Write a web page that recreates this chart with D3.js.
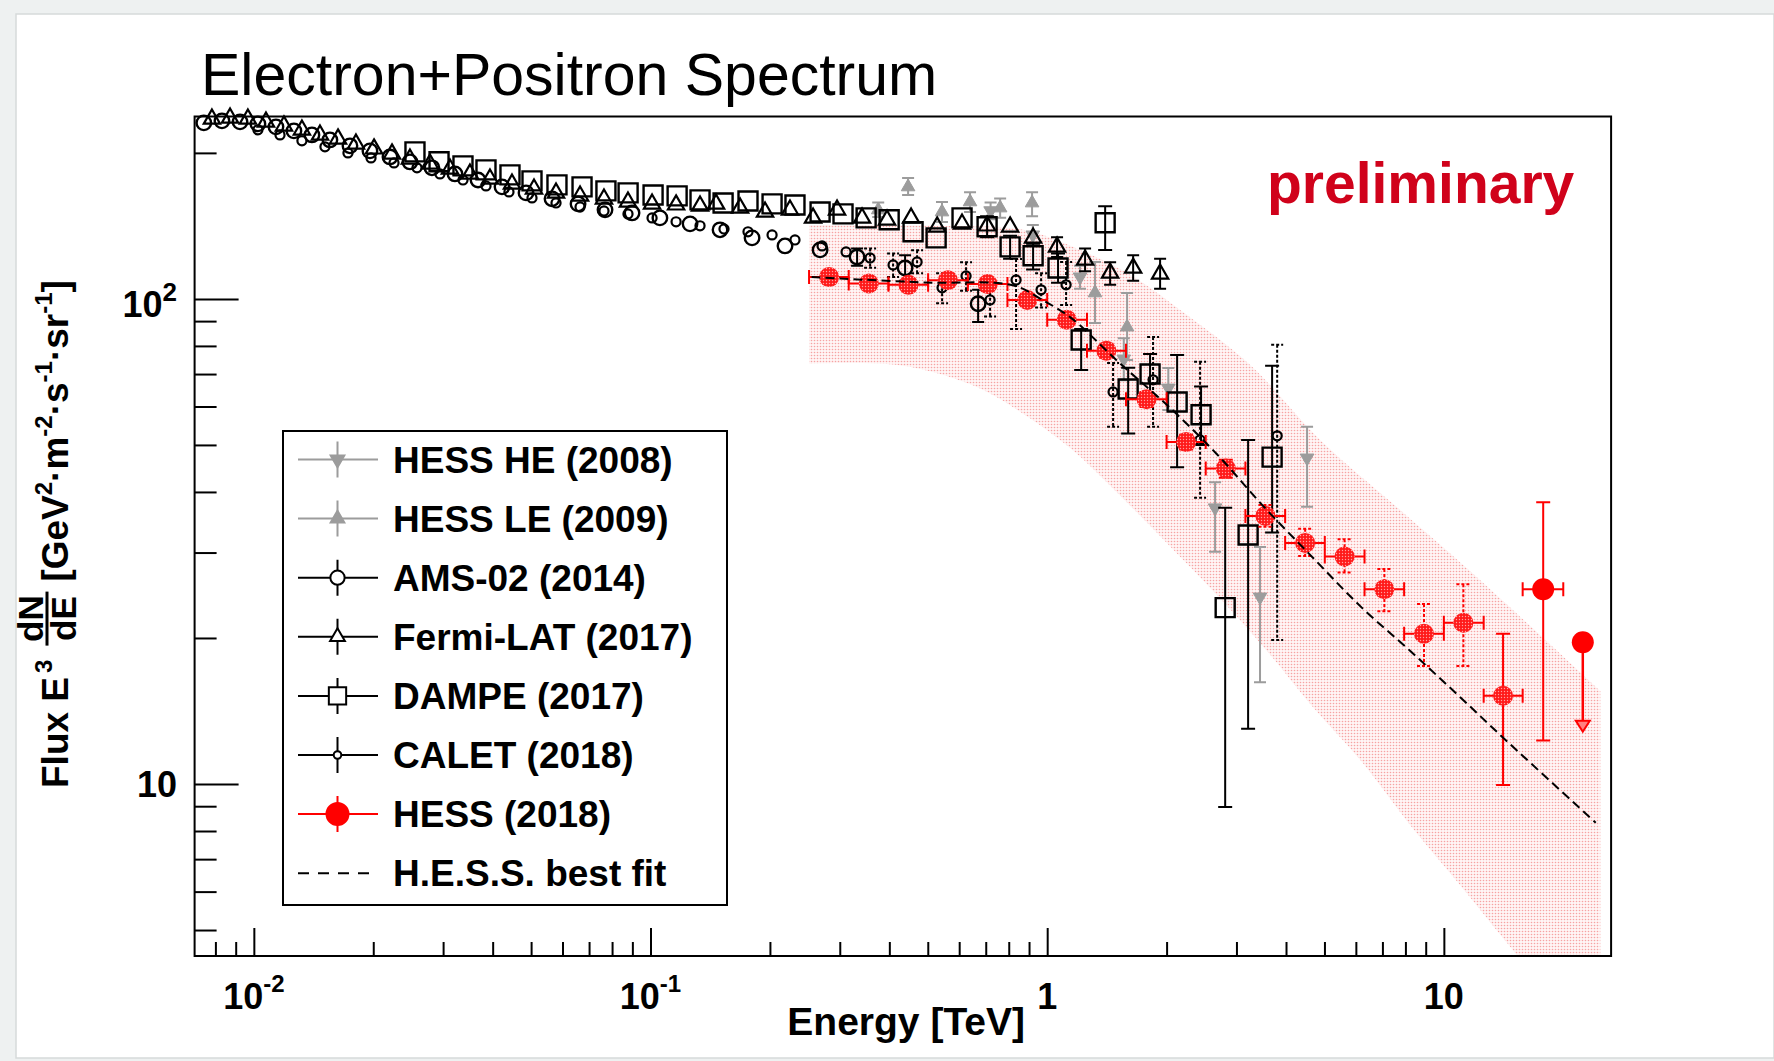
<!DOCTYPE html>
<html lang="en">
<head>
<meta charset="utf-8">
<title>Electron+Positron Spectrum</title>
<script src="https://d3js.org/d3.v7.min.js"></script>
<style>
  html, body { margin: 0; padding: 0; background: #eef1f1; }
  svg { display: block; }
  text { font-family: "Liberation Sans", Arial, Helvetica, sans-serif; fill: #000; }
  .bold { font-weight: bold; }
</style>
</head>
<body>
<script>
// energy in TeV, flux E^3 dN/dE in GeV^2 m^-2 s^-1 sr^-1

// H.E.S.S. 2018
const hessE     = [0.282, 0.355, 0.447, 0.562, 0.708, 0.891, 1.12, 1.41, 1.78, 2.24, 2.82, 3.55, 4.47, 5.62, 7.08, 8.91, 11.2, 14.1, 17.8];
const hessF     = [110.9, 107.6, 106.9, 109.3, 107.3, 99.5, 90.6, 78.2, 62.1, 50.7, 44.7, 35.7, 31.4, 29.45, 25.2, 20.4, 21.5, 15.2, 25.2];
const hessLo    = [108.8, 105.6, 104.9, 107.0, 105.0, 96.7, 88.0, 75.6, 59.9, 48.9, 42.8, 33.9, 29.5, 27.3, 22.7, 17.5, 17.5, 9.95, 12.3];
const hessHi    = [113.0, 109.6, 108.9, 111.6, 109.6, 102.4, 93.2, 80.8, 64.3, 52.5, 46.6, 37.6, 33.6, 31.96, 27.75, 23.5, 25.8, 20.4, 38.1];
const hessBinLo = [0.251, 0.316, 0.398, 0.501, 0.631, 0.794, 1.00, 1.26, 1.58, 2.00, 2.51, 3.16, 3.98, 5.01, 6.31, 7.94, 10.0, 12.6, 15.8];
const hessBinHi = [0.316, 0.398, 0.501, 0.631, 0.794, 1.00, 1.26, 1.58, 2.00, 2.51, 3.16, 3.98, 5.01, 6.31, 7.94, 10.0, 12.6, 15.8, 20.0];
// upper limit: energy, flux, arrow end
const hessUL    = [22.4, 19.6, 13.0];

// H.E.S.S. best fit
const fitE = [0.2547, 0.4934, 0.819, 0.970, 1.148, 1.521, 2.015, 2.671, 3.537, 4.69, 6.21, 8.23, 10.9, 14.44, 24.15];
const fitF = [110.9, 108.1, 106.7, 99.6, 91.4, 73.8, 60.2, 47.96, 37.1, 29.2, 23.1, 18.8, 15.2, 12.24, 8.32];

// systematic band
const bandUpE  = [0.251, 0.569, 0.869, 1.21, 1.618, 2.163, 3.248, 4.876, 7.76, 12.35, 24.8];
const bandUpF  = [142.1, 141.4, 138.8, 126.2, 112.1, 94.9, 73.1, 51.2, 36.7, 26.3, 15.55];
const bandLowE = [0.251, 0.428, 0.654, 0.864, 1.149, 1.518, 2.017, 2.667, 3.543, 4.68, 6.22, 8.22, 10.93, 14.44, 24.8];
const bandLowF = [73.5, 72.9, 66.2, 58.2, 49.1, 39.5, 31.2, 24.6, 19.0, 14.4, 11.1, 8.23, 6.22, 4.70, 2.76];

// HESS HE (2008)
const heE  = [0.72, 0.92, 1.21, 1.56, 2.02, 2.65, 3.44, 4.52];
const heF  = [152.0, 135.5, 111.0, 75.2, 65.5, 37.1, 24.3, 47.0];
const heLo = [146, 129, 105, 68, 59, 30.1, 16.2, 37.3];
const heHi = [158, 142, 117, 83, 72, 41.9, 30.8, 54.5];

// HESS LE (2009)
const leE  = [0.375, 0.446, 0.543, 0.639, 0.761, 0.916, 1.32, 1.59];
const leF  = [152.6, 170.2, 151.1, 158.5, 154.0, 157.7, 102.9, 87.5];
const leLo = [147.5, 163.8, 144.0, 151.0, 147.0, 148.0, 89.2, 74.8];
const leHi = [158.0, 177.6, 158.5, 166.0, 161.0, 166.0, 119.2, 102.9];

// AMS-02 (2014)
const amsE = [0.00748, 0.00831, 0.00923, 0.01024, 0.01137, 0.01262, 0.01401, 0.01555, 0.01747, 0.01962,
              0.02204, 0.02475, 0.02812, 0.03214, 0.03674, 0.04223, 0.04855, 0.05645, 0.06566, 0.07679,
              0.08982, 0.1056, 0.1258, 0.1497, 0.1803, 0.2183, 0.2676, 0.3317, 0.4383, 0.6697];
const amsF = [230.6, 232.8, 231.7, 229.5, 226.3, 222.0, 217.8, 212.7, 206.8, 201.9,
              196.2, 191.6, 186.3, 181.0, 175.9, 170.2, 165.4, 160.8, 157.0, 152.6,
              150.4, 146.9, 142.8, 138.8, 133.6, 128.6, 126.2, 122.0, 115.8, 97.7];
// [index, low, high]
const amsErr = [[27, 117, 127], [28, 109, 123], [29, 89.6, 104.4]];

// Fermi-LAT (2017)
const fermiE = [0.00784, 0.00871, 0.00966, 0.01073, 0.01191, 0.01322, 0.01468, 0.01630, 0.01809, 0.02009,
                0.02230, 0.02475, 0.02780, 0.03122, 0.03506, 0.03938, 0.04475, 0.05085, 0.05778, 0.06643,
                0.07633, 0.08774, 0.1009, 0.1160, 0.1333, 0.1463, 0.1682, 0.1944, 0.2247, 0.2569,
                0.2953, 0.3414, 0.3947, 0.4538, 0.5279, 0.6100, 0.7055, 0.8063, 0.9215, 1.059,
                1.246, 1.441, 1.647, 1.926];
const fermiF = [235.0, 236.1, 235.0, 231.7, 227.4, 223.1, 217.8, 213.8, 208.7, 203.9,
                199.1, 194.4, 189.8, 185.4, 181.0, 176.8, 172.6, 168.6, 165.4, 163.1,
                160.8, 158.5, 157.0, 156.3, 155.5, 157.0, 154.0, 151.1, 152.6, 146.9,
                152.6, 146.9, 145.5, 146.9, 140.8, 142.8, 141.5, 140.8, 133.6, 128.0,
                120.3, 113.1, 115.8, 112.6];
const fermiErr = [[39, 122, 134], [40, 114, 127], [41, 107, 119], [42, 109, 123], [43, 105, 121]];

// DAMPE (2017)
const dampeE = [0.02548, 0.0293, 0.03367, 0.03848, 0.04423, 0.05026, 0.0581, 0.0672, 0.0772, 0.0878,
                0.1015, 0.1167, 0.1333, 0.1524, 0.1761, 0.2025, 0.2313, 0.2676, 0.3057, 0.3496,
                0.3996, 0.4591, 0.5248, 0.61, 0.7055, 0.8063, 0.9215, 1.065, 1.218, 1.4,
                1.6, 1.817, 2.126, 2.443, 2.81, 3.21, 3.69];
const dampeF = [201.0, 191.7, 188.0, 184.5, 180.2, 175.1, 171.8, 170.2, 167.0, 165.4,
                163.8, 163.1, 160.0, 157.7, 159.2, 157.0, 156.2, 151.1, 149.7, 146.9,
                145.6, 137.5, 133.6, 146.9, 140.8, 128.0, 122.7, 115.8, 82.3, 143.5,
                65.2, 70.0, 61.3, 57.7, 23.1, 32.6, 47.2];
const dampeErr = [[24, 134, 148], [25, 121, 135], [26, 115, 130], [27, 108, 124], [28, 71.4, 86.7],
                  [29, 126.2, 155.3], [30, 52.8, 72.1], [31, 63, 77], [32, 45.0, 76.6], [33, 50, 66],
                  [34, 8.97, 37.1], [35, 13.0, 51.2], [36, 33, 72.8]];

// CALET (2018)
const caletE = [0.01024, 0.01164, 0.01322, 0.01511, 0.01727, 0.01974, 0.02256, 0.02578, 0.02946, 0.03367,
                0.03848, 0.04397, 0.05026, 0.05778, 0.06643, 0.07633, 0.08774, 0.1009, 0.1160, 0.1333,
                0.1532, 0.1761, 0.2025, 0.2313, 0.2707, 0.3112, 0.3577, 0.4088, 0.4699, 0.5433,
                0.6244, 0.7178, 0.8347, 0.9652, 1.116, 1.466, 1.849, 2.429, 3.80];
const caletF = [223.1, 217.8, 211.8, 205.8, 200.0, 195.3, 190.7, 186.3, 181.0, 175.9,
                171.0, 166.2, 161.5, 157.7, 154.7, 151.8, 149.7, 146.9, 144.2, 141.5,
                139.4, 137.5, 135.5, 132.3, 128.6, 125.0, 121.5, 117.5, 119.2, 105.4,
                111.5, 99.5, 109.4, 104.4, 106.9, 64.3, 68.1, 51.2, 52.2];
const caletErr = [[26, 116, 127], [27, 111, 124], [28, 113, 126], [29, 98, 113], [30, 104, 119],
                  [31, 92, 108], [32, 86.7, 120.9], [33, 96, 113], [34, 97.2, 119.2], [35, 54.5, 73.8],
                  [36, 54.5, 83.5], [37, 38.9, 74.2], [38, 19.8, 80.4]];

// axes
const xMajor = [0.01, 0.1, 1, 10];
const xMinor = [0.008, 0.009, 0.02, 0.03, 0.04, 0.05, 0.06, 0.07, 0.08, 0.09,
                0.2, 0.3, 0.4, 0.5, 0.6, 0.7, 0.8, 0.9, 2, 3, 4, 5, 6, 7, 8, 9, 20];
const xLabels = [["10", "-2"], ["10", "-1"], ["1", ""], ["10", ""]];
const yMajor = [10, 100];
const yMinor = [5, 6, 7, 8, 9, 20, 30, 40, 50, 60, 70, 80, 90, 200];
const yLabels = [["10", ""], ["10", "2"]];

const legendLabels = ["HESS HE (2008)", "HESS LE (2009)", "AMS-02 (2014)", "Fermi-LAT (2017)",
                      "DAMPE (2017)", "CALET (2018)", "HESS (2018)", "H.E.S.S. best fit"];

// ---------------- drawing ----------------
const W = 1774, H = 1061;
const plot = {left: 194.6, right: 1611.1, top: 116.5, bottom: 956};
const grey = "#9c9c9c", red = "#ff0000";

const x = d3.scaleLog().domain([0.00709, 26.4]).range([plot.left, plot.right]);
const y = d3.scaleLog().domain([4.42, 237.7]).range([plot.bottom, plot.top]);

const svg = d3.select("body").append("svg")
    .attr("width", W)
    .attr("height", H);

const defs = svg.append("defs");
defs.append("clipPath").attr("id", "plotClip")
    .append("rect")
    .attr("x", plot.left).attr("y", plot.top)
    .attr("width", plot.right - plot.left).attr("height", plot.bottom - plot.top);

let bandPat = defs.append("pattern").attr("id", "bandDots")
    .attr("patternUnits", "userSpaceOnUse").attr("width", 3).attr("height", 3);
bandPat.append("rect").attr("width", 3).attr("height", 3).attr("fill", "#fff5f5");
bandPat.append("circle").attr("cx", 1.5).attr("cy", 1.5).attr("r", 0.8).attr("fill", "#f6a3a3");

let redPat = defs.append("pattern").attr("id", "redDots")
    .attr("patternUnits", "userSpaceOnUse").attr("width", 3).attr("height", 3);
redPat.append("rect").attr("width", 3).attr("height", 3).attr("fill", "#ff1a1a");
redPat.append("circle").attr("cx", 1.5).attr("cy", 1.5).attr("r", 0.7).attr("fill", "#ffa0a0");

// page + card
svg.append("rect").attr("width", W).attr("height", H).attr("fill", "#eef1f1");
svg.append("rect")
    .attr("x", 16).attr("y", 14)
    .attr("width", W - 16).attr("height", 1058 - 14)
    .attr("fill", "#fff")
    .attr("stroke", "#d6dada").attr("stroke-width", 1.5);

// title
svg.append("text")
    .attr("x", 201).attr("y", 95)
    .attr("font-size", 59)
    .text("Electron+Positron Spectrum");

// ---- axes (inward ticks)
function tickAxis(axis, transform) {
    svg.append("g")
        .attr("transform", transform)
        .call(axis)
        .call(g => g.select(".domain").remove())
        .call(g => g.selectAll("line").attr("stroke", "#000").attr("stroke-width", 2));
}
tickAxis(d3.axisBottom(x).tickValues(xMajor).tickSize(-28).tickSizeOuter(0).tickFormat(""),
         `translate(0,${plot.bottom})`);
tickAxis(d3.axisBottom(x).tickValues(xMinor).tickSize(-14).tickSizeOuter(0).tickFormat(""),
         `translate(0,${plot.bottom})`);
tickAxis(d3.axisLeft(y).tickValues(yMajor).tickSize(-44).tickSizeOuter(0).tickFormat(""),
         `translate(${plot.left},0)`);
tickAxis(d3.axisLeft(y).tickValues(yMinor).tickSize(-22).tickSizeOuter(0).tickFormat(""),
         `translate(${plot.left},0)`);

// tick labels
xMajor.forEach((v, i) => {
    let t = svg.append("text").attr("class", "bold")
        .attr("x", x(v)).attr("y", 1009)
        .attr("font-size", 36).attr("text-anchor", "middle");
    t.append("tspan").text(xLabels[i][0]);
    if (xLabels[i][1]) t.append("tspan").attr("font-size", 24).attr("dy", -17).text(xLabels[i][1]);
});
yMajor.forEach((v, i) => {
    let t = svg.append("text").attr("class", "bold")
        .attr("x", 177).attr("y", y(v) + (yLabels[i][1] ? 18 : 13))
        .attr("font-size", 36).attr("text-anchor", "end");
    t.append("tspan").text(yLabels[i][0]);
    if (yLabels[i][1]) t.append("tspan").attr("font-size", 26).attr("dy", -16).text(yLabels[i][1]);
});

// axis titles
svg.append("text").attr("class", "bold")
    .attr("x", 1025).attr("y", 1035)
    .attr("font-size", 39).attr("text-anchor", "end")
    .text("Energy [TeV]");

const yt = svg.append("g").attr("transform", "translate(68,788) rotate(-90)");
let t1 = yt.append("text").attr("class", "bold").attr("font-size", 37);
t1.append("tspan").text("Flux E");
t1.append("tspan").attr("font-size", 24).attr("dy", -16).attr("dx", 4).text("3");
let u = t1.node().getComputedTextLength() + 18;
yt.append("text").attr("class", "bold").attr("font-size", 35)
    .attr("x", u + 27).attr("y", -25).attr("text-anchor", "middle").text("dN");
yt.append("line").attr("x1", u).attr("x2", u + 54).attr("y1", -21).attr("y2", -21)
    .attr("stroke", "#000").attr("stroke-width", 3);
yt.append("text").attr("class", "bold").attr("font-size", 35)
    .attr("x", u + 27).attr("y", 8).attr("text-anchor", "middle").text("dE");
let t2 = yt.append("text").attr("class", "bold").attr("font-size", 37).attr("x", u + 64);
[["[GeV", 0], ["2", 1], ["\u00b7m", 0], ["-2", 1], ["\u00b7s", 0], ["-1", 1], ["\u00b7sr", 0], ["-1", 1], ["]", 0]]
    .forEach((p, i, arr) => {
        let prevSup = i > 0 && arr[i - 1][1];
        let ts = t2.append("tspan").text(p[0]);
        if (p[1]) ts.attr("font-size", 24).attr("dy", -16);
        else if (prevSup) ts.attr("dy", 16);
    });

// ---- plot contents (clipped band & fit)
const inner = svg.append("g");

const line = d3.line().x(d => x(d[0])).y(d => y(d[1])).curve(d3.curveCatmullRom);
let up = bandUpE.map((e, i) => [e, bandUpF[i]]);
let low = bandLowE.map((e, i) => [e, bandLowF[i]]).reverse();
inner.append("path")
    .attr("clip-path", "url(#plotClip)")
    .attr("d", line(up) + "L" + line(low).slice(1) + "Z")
    .attr("fill", "url(#bandDots)");

function errPaths(g, pts, color, dash, cap) {
    g.selectAll(null).data(pts).join("path")
        .attr("d", d => {
            let px = x(d.e), y1 = y(d.hi), y2 = y(d.lo);
            return `M${px},${y1}V${y2}M${px - cap},${y1}h${2 * cap}M${px - cap},${y2}h${2 * cap}`;
        })
        .attr("fill", "none")
        .attr("stroke", color)
        .attr("stroke-width", 2)
        .attr("stroke-dasharray", dash);
}

function markers(g, E, F, type, size, stroke, fill, sw, flip) {
    g.selectAll(null).data(E).join("path")
        .attr("transform", (e, i) => `translate(${x(e)},${y(F[i])})` + (flip ? " rotate(180)" : ""))
        .attr("d", d3.symbol().type(type).size(size))
        .attr("fill", fill)
        .attr("stroke", stroke)
        .attr("stroke-width", sw);
}

function fromIndex(E, list) {
    return list.map(d => ({e: E[d[0]], lo: d[1], hi: d[2]}));
}

// HESS HE
let gHe = inner.append("g");
errPaths(gHe, heE.map((e, i) => ({e: e, lo: heLo[i], hi: heHi[i]})), grey, null, 6);
markers(gHe, heE, heF, d3.symbolTriangle, 80, grey, grey, 1, true);

// HESS LE
let gLe = inner.append("g");
errPaths(gLe, leE.map((e, i) => ({e: e, lo: leLo[i], hi: leHi[i]})), grey, null, 6);
markers(gLe, leE, leF, d3.symbolTriangle, 80, grey, grey, 1, false);

// AMS-02
let gAms = inner.append("g");
errPaths(gAms, fromIndex(amsE, amsErr), "#000", null, 6);
markers(gAms, amsE, amsF, d3.symbolCircle, 165, "#000", "none", 2.4, false);

// Fermi-LAT
let gFermi = inner.append("g");
errPaths(gFermi, fromIndex(fermiE, fermiErr), "#000", null, 6);
markers(gFermi, fermiE, fermiF, d3.symbolTriangle, 115, "#000", "none", 2.2, false);

// DAMPE
let gDampe = inner.append("g");
errPaths(gDampe, fromIndex(dampeE, dampeErr), "#000", null, 7);
markers(gDampe, dampeE, dampeF, d3.symbolSquare, 361, "#000", "none", 2.4, false);

// CALET
let gCalet = inner.append("g");
errPaths(gCalet, fromIndex(caletE, caletErr), "#000", "3,2", 6);
markers(gCalet, caletE, caletF, d3.symbolCircle, 65, "#000", "none", 2.2, false);

// HESS 2018
let gHess = inner.append("g");
gHess.selectAll(null).data(hessE).join("path")
    .attr("d", (e, i) => {
        let py = y(hessF[i]), a = x(hessBinLo[i]), b = x(hessBinHi[i]);
        return `M${a},${py}H${b}M${a},${py - 7}v14M${b},${py - 7}v14`;
    })
    .attr("stroke", red).attr("stroke-width", 2).attr("fill", "none");
hessE.forEach((e, i) => {
    errPaths(gHess, [{e: e, lo: hessLo[i], hi: hessHi[i]}], red, (i >= 11 && i <= 16) ? "3,2" : null, 7);
});
gHess.selectAll(null).data(hessE).join("circle")
    .attr("cx", e => x(e))
    .attr("cy", (e, i) => y(hessF[i]))
    .attr("r", (e, i) => i === hessE.length - 1 ? 11 : 10)
    .attr("fill", (e, i) => i === hessE.length - 1 ? red : "url(#redDots)");

// upper limit
let ulx = x(hessUL[0]), uly = y(hessUL[1]), ulEnd = y(hessUL[2]);
gHess.append("path")
    .attr("d", `M${ulx},${uly}V${ulEnd}`)
    .attr("stroke", red).attr("stroke-width", 2.5);
gHess.append("path")
    .attr("d", `M${ulx - 7},${ulEnd - 8}L${ulx + 7},${ulEnd - 8}L${ulx},${ulEnd + 3}Z`)
    .attr("fill", "#ff8080").attr("stroke", red).attr("stroke-width", 2);
gHess.append("circle").attr("cx", ulx).attr("cy", uly).attr("r", 11).attr("fill", red);

// best fit
inner.append("path")
    .attr("clip-path", "url(#plotClip)")
    .attr("d", line(fitE.map((e, i) => [e, fitF[i]])))
    .attr("fill", "none")
    .attr("stroke", "#000")
    .attr("stroke-width", 2)
    .attr("stroke-dasharray", "9,5");

// frame
svg.append("rect")
    .attr("x", plot.left).attr("y", plot.top)
    .attr("width", plot.right - plot.left).attr("height", plot.bottom - plot.top)
    .attr("fill", "none").attr("stroke", "#000").attr("stroke-width", 2);

// legend
const leg = svg.append("g");
leg.append("rect")
    .attr("x", 283).attr("y", 431).attr("width", 444).attr("height", 474)
    .attr("fill", "#fff").attr("stroke", "#000").attr("stroke-width", 2);

const legStyles = [
    {c: grey, sym: d3.symbolTriangle, size: 80, fill: grey, flip: true},
    {c: grey, sym: d3.symbolTriangle, size: 80, fill: grey},
    {c: "#000", sym: d3.symbolCircle, size: 160, fill: "none"},
    {c: "#000", sym: d3.symbolTriangle, size: 95, fill: "none"},
    {c: "#000", sym: d3.symbolSquare, size: 300, fill: "none"},
    {c: "#000", sym: d3.symbolCircle, size: 45, fill: "none"},
    {c: red, sym: d3.symbolCircle, size: 380, fill: red},
    {c: "#000", dashed: true}
];

legendLabels.forEach((lab, i) => {
    let ly = 459.5 + i * 59.1, s = legStyles[i];
    if (s.dashed) {
        leg.append("line").attr("x1", 298).attr("x2", 378).attr("y1", ly).attr("y2", ly)
            .attr("stroke", "#000").attr("stroke-width", 2).attr("stroke-dasharray", "11,9");
    } else {
        leg.append("path")
            .attr("d", `M298,${ly}H378M337.5,${ly - 18}V${ly + 18}`)
            .attr("stroke", s.c).attr("stroke-width", 2);
        leg.append("path")
            .attr("transform", `translate(337.5,${ly})` + (s.flip ? " rotate(180)" : ""))
            .attr("d", d3.symbol().type(s.sym).size(s.size))
            .attr("fill", s.fill === "none" ? "#fff" : s.fill)
            .attr("stroke", s.c).attr("stroke-width", 2);
    }
    leg.append("text").attr("class", "bold")
        .attr("x", 393).attr("y", ly + 13)
        .attr("font-size", 37)
        .text(lab);
});

// preliminary
svg.append("text").attr("class", "bold")
    .attr("x", 1267).attr("y", 203)
    .attr("font-size", 57)
    .style("fill", "#d0021b")
    .text("preliminary");
</script>
</body>
</html>
